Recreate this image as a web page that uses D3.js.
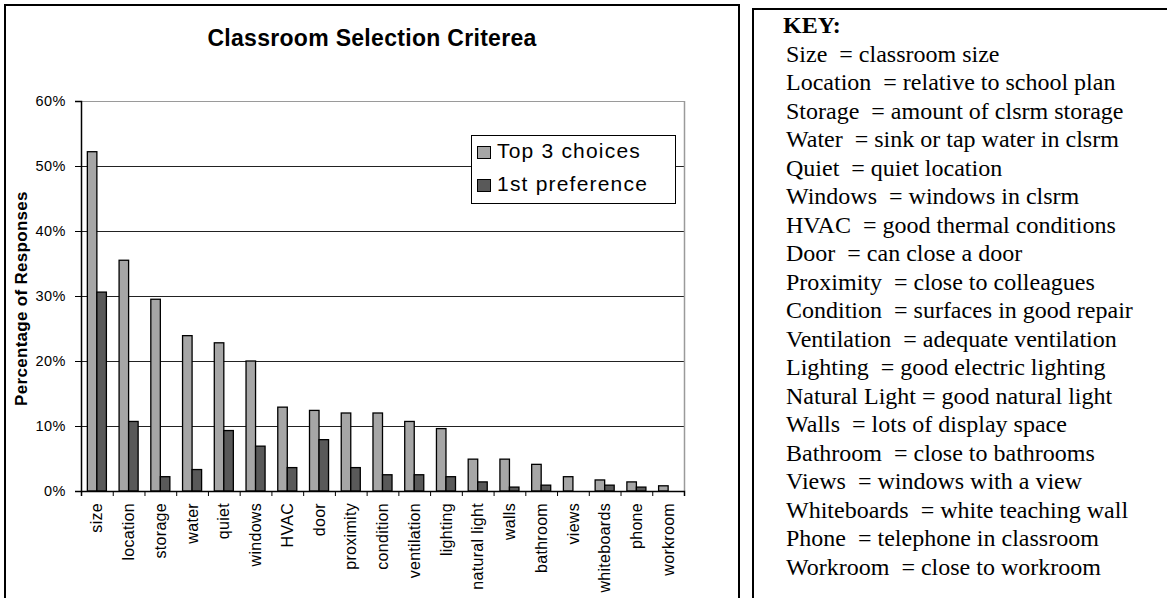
<!DOCTYPE html>
<html>
<head>
<meta charset="utf-8">
<script src="https://cdn.jsdelivr.net/npm/d3@7"></script>
<style>
    body { margin: 0; background: #fff; }
    svg { display: block; }
    text { white-space: pre; }
</style>
</head>
<body>
<svg id="chart" width="1167" height="598"></svg>
<script>
// Categories and values
const categories = ['size', 'location', 'storage', 'water', 'quiet', 'windows', 'HVAC', 'door',
    'proximity', 'condition', 'ventilation', 'lighting', 'natural light', 'walls', 'bathroom',
    'views', 'whiteboards', 'phone', 'workroom'];
const top3Choices = [0.522, 0.355, 0.295, 0.239, 0.228, 0.200, 0.129, 0.124,
    0.120, 0.120, 0.107, 0.096, 0.049, 0.049, 0.041, 0.022, 0.017, 0.014, 0.008];
const firstPreference = [0.306, 0.107, 0.022, 0.033, 0.093, 0.069, 0.036, 0.079,
    0.036, 0.025, 0.025, 0.022, 0.014, 0.006, 0.009, 0, 0.009, 0.006, 0];
const seriesNames = ['Top 3 choices', '1st preference'];
const yTicks = [0, 0.1, 0.2, 0.3, 0.4, 0.5, 0.6];

// Key text on the right
const keyTerms = ['Size', 'Location', 'Storage', 'Water', 'Quiet', 'Windows', 'HVAC', 'Door',
    'Proximity', 'Condition', 'Ventilation', 'Lighting', 'Natural Light', 'Walls', 'Bathroom',
    'Views', 'Whiteboards', 'Phone', 'Workroom'];
const keyMeanings = ['classroom size', 'relative to school plan', 'amount of clsrm storage',
    'sink or tap water in clsrm', 'quiet location', 'windows in clsrm', 'good thermal conditions',
    'can close a door', 'close to colleagues', 'surfaces in good repair', 'adequate ventilation',
    'good electric lighting', 'good natural light', 'lots of display space', 'close to bathrooms',
    'windows with a view', 'white teaching wall', 'telephone in classroom', 'close to workroom'];

const sans = '"Liberation Sans", Arial, sans-serif';
const serif = '"Liberation Serif", "Times New Roman", serif';

const svg = d3.select('#chart');

// Outer boxes
svg.append('rect')
    .attr('x', 5).attr('y', 5)
    .attr('width', 734).attr('height', 620)
    .attr('fill', 'none').attr('stroke', '#000').attr('stroke-width', 2);
svg.append('rect')
    .attr('x', 753).attr('y', 9)
    .attr('width', 440).attr('height', 620)
    .attr('fill', 'none').attr('stroke', '#000').attr('stroke-width', 2);

// Plot area
const plot = { left: 81, right: 684, top: 101, bottom: 491 };

const y = d3.scaleLinear().domain([0, 0.6]).range([plot.bottom, plot.top]);
const x0 = d3.scaleBand()
    .domain(categories)
    .range([plot.left, plot.right])
    .paddingInner(0.4)
    .paddingOuter(0.2);
const x1 = d3.scaleBand()
    .domain([0, 1])
    .range([0, x0.bandwidth()]);
const color = d3.scaleOrdinal([0, 1], ['#a6a6a6', '#595959']);

// Gridlines
svg.append('g')
    .selectAll('line')
    .data(yTicks.slice(1))
    .join('line')
    .attr('x1', plot.left).attr('x2', plot.right)
    .attr('y1', d => Math.round(y(d)) + 0.5).attr('y2', d => Math.round(y(d)) + 0.5)
    .attr('stroke', d => d === 0.6 ? '#9a9a9a' : '#222')
    .attr('stroke-width', 1);

// Right border of plot area
svg.append('line')
    .attr('x1', plot.right + 0.5).attr('x2', plot.right + 0.5)
    .attr('y1', plot.top).attr('y2', plot.bottom)
    .attr('stroke', '#9a9a9a').attr('stroke-width', 1.5);

// Bars
const groups = svg.append('g')
    .selectAll('g')
    .data(categories.map((c, i) => ({ name: c, values: [top3Choices[i], firstPreference[i]] })))
    .join('g')
    .attr('transform', d => `translate(${x0(d.name)},0)`);

groups.selectAll('rect')
    .data(d => d.values.map((v, k) => ({ k, v })).filter(e => e.v > 0))
    .join('rect')
    .attr('x', d => x1(d.k))
    .attr('y', d => y(d.v))
    .attr('width', x1.bandwidth())
    .attr('height', d => y(0) - y(d.v))
    .attr('fill', d => color(d.k))
    .attr('stroke', '#000')
    .attr('stroke-width', 1.3);

// Y axis
const yAxis = svg.append('g')
    .attr('transform', `translate(${plot.left},0)`)
    .call(d3.axisLeft(y).tickValues(yTicks).tickFormat(d3.format('.0%')).tickSize(6).tickPadding(9));
yAxis.select('.domain').attr('stroke', '#000').attr('stroke-width', 1.5);
yAxis.selectAll('.tick line').attr('stroke', '#000');
yAxis.selectAll('text')
    .attr('font-family', sans).attr('font-size', 14.5).attr('letter-spacing', 0.5).attr('fill', '#000');

// X axis: ticks sit between categories
const xEdges = d3.scaleLinear().domain([0, categories.length]).range([plot.left, plot.right]);
const xAxis = svg.append('g')
    .attr('transform', `translate(0,${plot.bottom})`)
    .call(d3.axisBottom(xEdges).tickValues(d3.range(categories.length + 1)).tickFormat('').tickSize(5));
xAxis.select('.domain').attr('stroke', '#000').attr('stroke-width', 1.5);
xAxis.selectAll('.tick line').attr('stroke', '#000');

svg.append('g')
    .selectAll('text')
    .data(categories)
    .join('text')
    .attr('transform', d => `translate(${x0(d) + x0.bandwidth() / 2},503) rotate(-90)`)
    .attr('dy', '0.35em')
    .attr('text-anchor', 'end')
    .attr('font-family', sans)
    .attr('font-size', 16)
    .attr('letter-spacing', 0.3)
    .attr('fill', '#000')
    .text(d => d);

// Title
svg.append('text')
    .attr('x', 372).attr('y', 46)
    .attr('text-anchor', 'middle')
    .attr('font-family', sans)
    .attr('font-size', 23)
    .attr('font-weight', 'bold')
    .attr('letter-spacing', 0.3)
    .text('Classroom Selection Criterea');

// Y axis title
svg.append('text')
    .attr('transform', `translate(27,${(192 + 405) / 2}) rotate(-90)`)
    .attr('text-anchor', 'middle')
    .attr('font-family', sans)
    .attr('font-size', 17)
    .attr('font-weight', 'bold')
    .attr('letter-spacing', 0.3)
    .text('Percentage of Responses');

// Legend
const legend = svg.append('g');
legend.append('rect')
    .attr('x', 471.5).attr('y', 135.5)
    .attr('width', 204).attr('height', 68)
    .attr('fill', '#fff').attr('stroke', '#000').attr('stroke-width', 1);
const legendItems = legend.selectAll('g')
    .data(seriesNames)
    .join('g')
    .attr('transform', (d, i) => `translate(0,${i * 33})`);
legendItems.append('rect')
    .attr('x', 477.5).attr('y', 146.5)
    .attr('width', 13).attr('height', 12)
    .attr('fill', (d, i) => color(i))
    .attr('stroke', '#000');
legendItems.append('text')
    .attr('x', 497).attr('y', 158)
    .attr('font-family', sans)
    .attr('font-size', 21)
    .attr('letter-spacing', 1.2)
    .text(d => d);

// Key
const key = svg.append('g').attr('font-family', serif).attr('font-size', 24).attr('fill', '#000');
key.append('text')
    .attr('x', 783).attr('y', 33)
    .attr('font-weight', 'bold')
    .text('KEY:');
key.selectAll('text.item')
    .data(keyTerms)
    .join('text')
    .attr('class', 'item')
    .attr('x', 786)
    .attr('y', (d, i) => 33 + (i + 1) * 28.5)
    .text((d, i) => d === 'Natural Light' ? `${d} = ${keyMeanings[i]}` : `${d}  = ${keyMeanings[i]}`);
</script>
</body>
</html>
